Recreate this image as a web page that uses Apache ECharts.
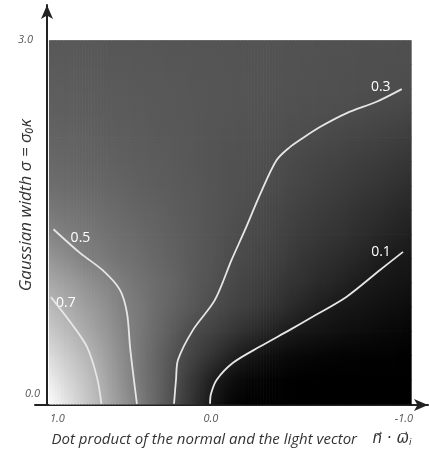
<!DOCTYPE html>
<html>
<head>
<meta charset="utf-8">
<script src="https://cdn.jsdelivr.net/npm/echarts@6/dist/echarts.min.js"></script>
<style>
html, body { margin: 0; padding: 0; background: #fff; }
#chart { width: 429px; height: 454px; }
</style>
</head>
<body>
<div id="chart"></div>
<script>
// grid of the shaded field: dot product (columns) x gaussian width (rows)
const dotValues = [1.0, 0.9, 0.8, 0.7, 0.6, 0.5, 0.4, 0.3, 0.2, 0.1, 0.0, -0.1, -0.2, -0.3, -0.4, -0.5, -0.6, -0.7, -0.8, -0.9, -1.0]
const sigmaValues = [0, 0.2, 0.4, 0.6, 0.8, 1.0, 1.2, 1.4, 1.6, 1.8, 2.0, 2.2, 2.4, 2.6, 2.8, 3.0]
const shade = [
  [0.99, 0.89, 0.79, 0.69, 0.59, 0.49, 0.39, 0.29, 0.19, 0.09, 0.02, 0, 0, 0, 0, 0, 0, 0, 0, 0, 0],
  [0.93, 0.84, 0.76, 0.67, 0.57, 0.47, 0.39, 0.30, 0.21, 0.12, 0.06, 0.025, 0.01, 0.005, 0, 0, 0, 0, 0, 0, 0],
  [0.86, 0.79, 0.72, 0.64, 0.55, 0.47, 0.39, 0.32, 0.26, 0.20, 0.14, 0.09, 0.06, 0.04, 0.03, 0.02, 0.014, 0.01, 0.008, 0.006, 0.005],
  [0.79, 0.73, 0.665, 0.60, 0.53, 0.47, 0.41, 0.35, 0.29, 0.26, 0.22, 0.18, 0.145, 0.11, 0.09, 0.075, 0.06, 0.05, 0.04, 0.03, 0.02],
  [0.73, 0.68, 0.62, 0.57, 0.51, 0.47, 0.42, 0.38, 0.34, 0.30, 0.27, 0.24, 0.21, 0.18, 0.145, 0.115, 0.094, 0.082, 0.07, 0.057, 0.045],
  [0.66, 0.62, 0.57, 0.53, 0.49, 0.45, 0.42, 0.39, 0.35, 0.32, 0.29, 0.26, 0.24, 0.21, 0.19, 0.16, 0.14, 0.11, 0.093, 0.082, 0.07],
  [0.59, 0.55, 0.50, 0.48, 0.45, 0.43, 0.40, 0.38, 0.35, 0.33, 0.30, 0.28, 0.26, 0.24, 0.21, 0.19, 0.17, 0.15, 0.12, 0.10, 0.09],
  [0.52, 0.49, 0.47, 0.45, 0.43, 0.41, 0.39, 0.37, 0.35, 0.33, 0.31, 0.29, 0.275, 0.255, 0.235, 0.215, 0.2, 0.18, 0.16, 0.14, 0.12],
  [0.47, 0.455, 0.44, 0.425, 0.41, 0.39, 0.38, 0.36, 0.35, 0.33, 0.32, 0.30, 0.285, 0.27, 0.25, 0.235, 0.22, 0.20, 0.185, 0.165, 0.15],
  [0.43, 0.42, 0.41, 0.40, 0.39, 0.375, 0.365, 0.355, 0.345, 0.33, 0.32, 0.31, 0.30, 0.285, 0.27, 0.255, 0.24, 0.225, 0.21, 0.195, 0.18],
  [0.41, 0.40, 0.39, 0.385, 0.375, 0.365, 0.36, 0.35, 0.34, 0.33, 0.32, 0.315, 0.305, 0.295, 0.28, 0.27, 0.26, 0.245, 0.235, 0.22, 0.21],
  [0.39, 0.385, 0.38, 0.37, 0.365, 0.36, 0.35, 0.345, 0.34, 0.33, 0.325, 0.32, 0.315, 0.305, 0.30, 0.29, 0.28, 0.27, 0.26, 0.25, 0.24],
  [0.375, 0.37, 0.366, 0.361, 0.357, 0.352, 0.348, 0.343, 0.339, 0.334, 0.33, 0.325, 0.32, 0.316, 0.311, 0.307, 0.302, 0.296, 0.287, 0.279, 0.27],
  [0.365, 0.362, 0.358, 0.355, 0.352, 0.348, 0.345, 0.342, 0.338, 0.335, 0.332, 0.328, 0.325, 0.322, 0.318, 0.315, 0.312, 0.308, 0.305, 0.302, 0.298],
  [0.355, 0.352, 0.35, 0.347, 0.345, 0.342, 0.34, 0.337, 0.335, 0.332, 0.33, 0.327, 0.324, 0.322, 0.319, 0.317, 0.314, 0.312, 0.309, 0.307, 0.304],
  [0.345, 0.343, 0.342, 0.34, 0.338, 0.336, 0.335, 0.333, 0.331, 0.329, 0.328, 0.326, 0.324, 0.322, 0.321, 0.319, 0.317, 0.315, 0.314, 0.312, 0.31]
]

// contour lines [dot, sigma], drawn from the bottom edge; the label sits at the last point
const contour07 = [[0.71, 0], [0.735, 0.22], [0.79, 0.47], [0.88, 0.67], [0.989, 0.88]]
const contour05 = [[0.514, 0], [0.535, 0.25], [0.552, 0.47], [0.569, 0.75], [0.608, 0.94], [0.702, 1.10], [0.829, 1.245], [0.975, 1.44]]
const contour03 = [[0.309, 0], [0.298, 0.2], [0.287, 0.363], [0.204, 0.61], [0.083, 0.857], [-0.009, 1.187], [-0.083, 1.434], [-0.17, 1.74], [-0.258, 2.011], [-0.331, 2.118], [-0.39, 2.18], [-0.497, 2.283], [-0.645, 2.398], [-0.81, 2.492], [-0.949, 2.596]]
const contour01 = [[0.11, 0], [0.105, 0.08], [0.073, 0.198], [-0.017, 0.338], [-0.166, 0.472], [-0.331, 0.61], [-0.459, 0.72], [-0.645, 0.884], [-0.829, 1.104], [-0.956, 1.253]]

const xTicks = [1, 0, -1]
const yTicks = [0, 3]

function gray(v) {
  const g = Math.round(Math.max(0, Math.min(1, v)) * 255)
  return 'rgb(' + g + ',' + g + ',' + g + ')'
}

const cells = []
for (let j = 0; j < sigmaValues.length - 1; j++) {
  for (let i = 0; i < dotValues.length - 1; i++) {
    cells.push([dotValues[i], sigmaValues[j], i, j])
  }
}

const STRIPS = 6
function renderCell(params, api) {
  const i = api.value(2)
  const j = api.value(3)
  const pa = api.coord([dotValues[i], sigmaValues[j]])
  const pb = api.coord([dotValues[i + 1], sigmaValues[j + 1]])
  const x0 = Math.min(pa[0], pb[0])
  const x1 = Math.max(pa[0], pb[0])
  const yTop = Math.min(pa[1], pb[1])
  const yBot = Math.max(pa[1], pb[1])
  const w = (x1 - x0) / STRIPS
  const children = []
  for (let k = 0; k < STRIPS; k++) {
    const t = (k + 0.5) / STRIPS
    const vb = shade[j][i] + (shade[j][i + 1] - shade[j][i]) * t
    const vt = shade[j + 1][i] + (shade[j + 1][i + 1] - shade[j + 1][i]) * t
    children.push({
      type: 'rect',
      shape: { x: x0 + k * w, y: yTop, width: w + 0.7, height: yBot - yTop + 0.7 },
      style: {
        fill: {
          type: 'linear', x: 0, y: 0, x2: 0, y2: 1,
          colorStops: [{ offset: 0, color: gray(vt) }, { offset: 1, color: gray(vb) }]
        }
      }
    })
  }
  return { type: 'group', children }
}

const font = 'Open Sans'

function contourSeries(name, data, offset) {
  return {
    name: name,
    type: 'line',
    data: data,
    smooth: 0.3,
    showSymbol: false,
    silent: true,
    z: 5,
    lineStyle: { color: '#e6e6e6', width: 1.8 },
    markPoint: {
      silent: true,
      symbol: 'circle',
      symbolSize: 0,
      data: [{ coord: data[data.length - 1] }],
      label: {
        show: true,
        position: 'inside',
        formatter: name,
        color: '#fff',
        fontSize: 14,
        fontFamily: font,
        offset: offset
      }
    }
  }
}

const chart = echarts.init(document.getElementById('chart'))
const option = {
  animation: false,
  grid: { left: 35, right: 1, top: 5, bottom: 49, outerBoundsMode: 'none' },
  xAxis: {
    type: 'value',
    inverse: true,
    min: -1.094,
    max: 1.077,
    splitLine: { show: false },
    axisTick: { show: false },
    axisLine: {
      onZero: false,
      symbol: ['none', 'arrow'],
      symbolSize: [9, 14],
      lineStyle: { color: '#222', width: 2 }
    },
    axisLabel: {
      customValues: xTicks,
      color: '#555',
      fontStyle: 'italic',
      fontFamily: font,
      fontSize: 11,
      margin: 8,
      formatter: v => (v === 1 ? '{l|1.0}' : v === 0 ? '{m|0.0}' : '{r|-1.0}'),
      rich: {
        l: { padding: [0, 0, 0, 17] },
        m: { padding: [0, 38, 0, 0] },
        r: { padding: [0, 14, 0, 0] }
      }
    },
    name: 'Dot product of the normal and the light vector    {v|n\u20D7 · ω\u20D7}{s|i}',
    nameLocation: 'middle',
    nameGap: 27,
    nameMoveOverlap: false,
    nameTextStyle: {
      color: '#333',
      fontStyle: 'italic',
      fontFamily: font,
      fontSize: 15,
      rich: {
        v: { fontFamily: 'DejaVu Sans', fontStyle: 'italic', fontSize: 15, color: '#333' },
        s: { fontFamily: 'DejaVu Sans', fontStyle: 'italic', fontSize: 9, color: '#333', verticalAlign: 'bottom' }
      }
    }
  },
  yAxis: {
    type: 'value',
    min: -0.01,
    max: 3.29,
    offset: -12,
    splitLine: { show: false },
    axisTick: { show: false },
    axisLine: {
      onZero: false,
      symbol: ['none', 'arrow'],
      symbolSize: [9, 14],
      lineStyle: { color: '#222', width: 2 }
    },
    axisLabel: {
      customValues: yTicks,
      color: '#555',
      fontStyle: 'italic',
      fontFamily: font,
      fontSize: 11,
      margin: 7,
      formatter: v => (v === 0 ? '{lo|0.0}' : '{hi|3.0}'),
      rich: {
        lo: { padding: [0, 0, 20, 0] },
        hi: { padding: [0, 7, 0, 0] }
      }
    },
    name: 'Gaussian width σ = σ\u2080κ',
    nameLocation: 'middle',
    nameRotate: 90,
    nameGap: 12,
    nameMoveOverlap: false,
    nameTextStyle: {
      color: '#333',
      fontStyle: 'italic',
      fontFamily: font,
      fontSize: 17
    }
  },
  series: [
    {
      type: 'custom',
      silent: true,
      z: 1,
      renderItem: renderCell,
      data: cells
    },
    contourSeries('0.7', contour07, [15, 6]),
    contourSeries('0.5', contour05, [27, 9]),
    contourSeries('0.3', contour03, [-21, -2]),
    contourSeries('0.1', contour01, [-22, 0])
  ]
}
chart.setOption(option)
</script>
</body>
</html>
